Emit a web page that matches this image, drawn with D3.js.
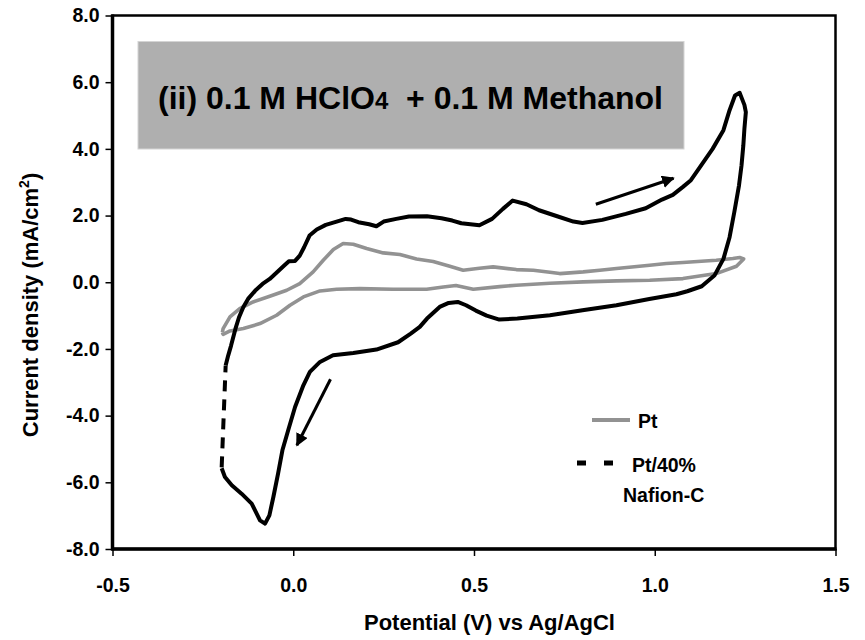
<!DOCTYPE html>
<html><head><meta charset="utf-8">
<script src="https://cdn.jsdelivr.net/npm/d3@7"></script>
<style>
html,body{margin:0;padding:0;background:#fff;}
svg{display:block;font-family:"Liberation Sans",Arial,sans-serif;font-weight:bold;}
</style></head>
<body><svg id="c" width="865" height="640"></svg>
<script>
// ---- data ----
const xTicks = [-0.5, 0.0, 0.5, 1.0, 1.5];
const yTicks = [-8, -6, -4, -2, 0, 2, 4, 6, 8];
const seriesNames = ["Pt", "Pt/40%", "Nafion-C"];
const titleParts = ["(ii) 0.1 M HClO", "4", "\u00a0\u00a0+ 0.1 M Methanol"];
const xLabel = "Potential (V) vs Ag/AgCl";
const yLabelParts = ["Current density (mA/cm", "2", ")"];

// Pt electrode CV: [potential V, current density mA/cm2]
const ptCurve = [
  [-0.196,-1.50],[-0.194,-1.39],[-0.175,-1.04],[-0.148,-0.79],[-0.111,-0.59],[-0.065,-0.42],
  [-0.018,-0.24],[0.018,-0.04],[0.055,0.31],[0.083,0.66],[0.111,0.98],[0.138,1.16],[0.166,1.14],
  [0.203,1.01],[0.249,0.88],[0.295,0.83],[0.341,0.70],[0.387,0.62],[0.433,0.48],[0.470,0.36],
  [0.515,0.42],[0.553,0.46],[0.617,0.38],[0.664,0.36],[0.710,0.30],[0.737,0.26],[0.802,0.31],
  [0.848,0.36],[0.894,0.41],[0.986,0.51],[1.032,0.56],[1.078,0.59],[1.170,0.66],[1.216,0.71],
  [1.235,0.74],[1.246,0.70],[1.226,0.48],[1.170,0.26],[1.078,0.11],[0.986,0.06],[0.894,0.04],
  [0.802,0.01],[0.710,-0.03],[0.617,-0.09],[0.571,-0.13],[0.498,-0.21],[0.450,-0.10],[0.415,-0.14],
  [0.369,-0.21],[0.276,-0.21],[0.184,-0.19],[0.120,-0.21],[0.074,-0.26],[0.028,-0.44],[-0.009,-0.69],
  [-0.046,-0.99],[-0.092,-1.24],[-0.138,-1.39],[-0.175,-1.46],[-0.194,-1.56],[-0.196,-1.50]
];

// Pt/40% Nafion-C CV
const ncCurve = [
  [-0.198,-5.55],[-0.187,-2.50],[-0.180,-2.20],[-0.172,-1.90],[-0.160,-1.40],[-0.150,-1.05],
  [-0.138,-0.74],[-0.125,-0.50],[-0.105,-0.25],[-0.085,-0.05],[-0.065,0.10],[-0.045,0.30],
  [-0.025,0.50],[-0.012,0.63],[0.005,0.64],[0.018,0.80],[0.030,1.05],[0.045,1.40],[0.065,1.58],
  [0.090,1.72],[0.120,1.82],[0.145,1.90],[0.160,1.88],[0.180,1.80],[0.210,1.74],[0.230,1.68],
  [0.250,1.82],[0.285,1.90],[0.320,1.97],[0.370,1.98],[0.410,1.92],[0.440,1.85],[0.465,1.77],
  [0.515,1.71],[0.550,1.90],[0.580,2.20],[0.607,2.45],[0.645,2.34],[0.680,2.16],[0.730,1.98],
  [0.775,1.82],[0.800,1.78],[0.855,1.87],[0.920,2.05],[0.975,2.22],[1.020,2.48],[1.050,2.62],
  [1.078,2.86],[1.100,3.06],[1.125,3.45],[1.160,4.00],[1.190,4.56],[1.207,5.16],[1.222,5.60],
  [1.235,5.68],[1.248,5.32],[1.252,5.10],[1.248,4.60],[1.245,4.10],[1.240,3.50],[1.233,2.90],
  [1.220,2.10],[1.207,1.35],
  [1.190,0.70],[1.165,0.20],[1.130,-0.12],[1.090,-0.27],[1.060,-0.36],[0.985,-0.50],[0.894,-0.69],
  [0.800,-0.84],[0.710,-0.99],[0.620,-1.09],[0.570,-1.12],[0.535,-1.00],[0.505,-0.85],[0.478,-0.69],
  [0.455,-0.59],[0.430,-0.62],[0.405,-0.74],[0.370,-1.09],[0.350,-1.34],[0.325,-1.54],[0.290,-1.80],
  [0.230,-2.02],[0.166,-2.12],[0.110,-2.19],[0.074,-2.39],[0.046,-2.69],[0.028,-3.09],[0.005,-3.74],
  [-0.014,-4.44],[-0.030,-5.04],[-0.042,-5.74],[-0.055,-6.44],[-0.066,-6.99],[-0.078,-7.24],
  [-0.092,-7.14],[-0.115,-6.64],[-0.143,-6.34],[-0.170,-6.09],[-0.189,-5.84],[-0.198,-5.58]
];

// scan-direction arrows [from, to]
const arrowForward = [[0.837, 2.34], [1.052, 3.12]];
const arrowReverse = [[0.103, -2.91], [0.010, -4.89]];

// ---- layout ----
const plot = {left: 112.5, right: 835.5, top: 15.5, bottom: 549};
const svg = d3.select("#c");
const x = d3.scaleLinear().domain([-0.5, 1.5]).range([plot.left, plot.right]);
const y = d3.scaleLinear().domain([-8, 8]).range([plot.bottom, plot.top]);
const fmt = d => d3.format(".1f")(d).replace("\u2212", "-");

// title box
svg.append("rect").attr("x",138).attr("y",41.5).attr("width",546).attr("height",107.5)
  .attr("fill","#afafaf").attr("stroke","#d4d4d4").attr("stroke-width",1);
const tt = svg.append("text").attr("x",158).attr("y",108.5).attr("font-size",32).attr("fill","#000");
tt.append("tspan").text(titleParts[0]);
tt.append("tspan").attr("font-size",24).text(titleParts[1]);
tt.append("tspan").text(titleParts[2]);

// axes
const xAxis = d3.axisBottom(x).tickValues(xTicks).tickSize(7).tickPadding(22).tickFormat(fmt);
const yAxis = d3.axisLeft(y).tickValues(yTicks).tickSize(7).tickPadding(6).tickFormat(fmt);
const gx = svg.append("g").attr("transform",`translate(0,${plot.bottom})`).call(xAxis);
const gy = svg.append("g").attr("transform",`translate(${plot.left},0)`).call(yAxis);
[gx, gy].forEach(g => {
  g.attr("font-family",null).attr("font-size",null);
  g.select(".domain").remove();
  g.selectAll(".tick line").attr("stroke","#000").attr("stroke-width",1.5);
  g.selectAll(".tick text").attr("font-size",19.5).attr("font-weight","bold")
    .attr("font-family","'Liberation Sans',Arial,sans-serif").attr("fill","#000");
});
gx.selectAll(".tick text").attr("dy","0.71em");

// frame
svg.append("rect").attr("x",plot.left).attr("y",plot.top)
  .attr("width",plot.right-plot.left).attr("height",plot.bottom-plot.top)
  .attr("fill","none").attr("stroke","#000").attr("stroke-width",2.5);
svg.append("line").attr("x1",plot.left).attr("x2",plot.left).attr("y1",plot.top-1).attr("y2",plot.bottom+1.5)
  .attr("stroke","#000").attr("stroke-width",3.5);
svg.append("line").attr("x1",plot.left-1).attr("x2",plot.right+1).attr("y1",plot.bottom).attr("y2",plot.bottom)
  .attr("stroke","#000").attr("stroke-width",3.5);

// curves
const line = d3.line().x(d => x(d[0])).y(d => y(d[1]));
svg.append("path").datum(ptCurve).attr("d",line).attr("fill","none")
  .attr("stroke","#929292").attr("stroke-width",3.6).attr("stroke-linejoin","round");

// Nafion-C: split into runs of short (solid) and long (dashed) segments
const runs = [];
for (let i = 0; i < ncCurve.length - 1; i++) {
  const a = ncCurve[i], b = ncCurve[i+1];
  const len = Math.hypot(x(b[0])-x(a[0]), y(b[1])-y(a[1]));
  const dashed = len > 70;
  const last = runs[runs.length-1];
  if (last && last.dashed === dashed) last.pts.push(b);
  else runs.push({dashed, pts:[a,b]});
}
runs.forEach(r => {
  svg.append("path").datum(r.pts).attr("d",line).attr("fill","none")
    .attr("stroke","#000").attr("stroke-width",4).attr("stroke-linejoin","round")
    .attr("stroke-dasharray", r.dashed ? "11,8" : null);
});

// arrows
const defs = svg.append("defs");
defs.append("marker").attr("id","ah").attr("viewBox","0 0 10 10").attr("refX",9).attr("refY",5)
  .attr("markerWidth",4.2).attr("markerHeight",4.2).attr("orient","auto")
  .append("path").attr("d","M0,0 L10,5 L0,10 Z").attr("fill","#000");
[arrowForward, arrowReverse].forEach(a => {
  svg.append("line").attr("x1",x(a[0][0])).attr("y1",y(a[0][1]))
    .attr("x2",x(a[1][0])).attr("y2",y(a[1][1]))
    .attr("stroke","#000").attr("stroke-width",3).attr("marker-end","url(#ah)");
});

// legend
svg.append("line").attr("x1",592).attr("x2",630).attr("y1",420).attr("y2",420)
  .attr("stroke","#929292").attr("stroke-width",4);
svg.append("text").attr("x",638).attr("y",428).attr("font-size",19.5).text(seriesNames[0]);
svg.append("line").attr("x1",577).attr("x2",615).attr("y1",463).attr("y2",463)
  .attr("stroke","#000").attr("stroke-width",5).attr("stroke-dasharray","9,18");
svg.append("text").attr("x",632).attr("y",472).attr("font-size",19.5).text(seriesNames[1]);
svg.append("text").attr("x",623).attr("y",502).attr("font-size",19.5).text(seriesNames[2]);

// axis titles
svg.append("text").attr("x",489.5).attr("y",630).attr("text-anchor","middle")
  .attr("font-size",22).text(xLabel);
const yl = svg.append("text").attr("transform","translate(38,305) rotate(-90)")
  .attr("text-anchor","middle").attr("font-size",22);
yl.append("tspan").text(yLabelParts[0]);
yl.append("tspan").attr("font-size",14).attr("dy",-9).text(yLabelParts[1]);
yl.append("tspan").attr("dy",9).text(yLabelParts[2]);
</script></body></html>
